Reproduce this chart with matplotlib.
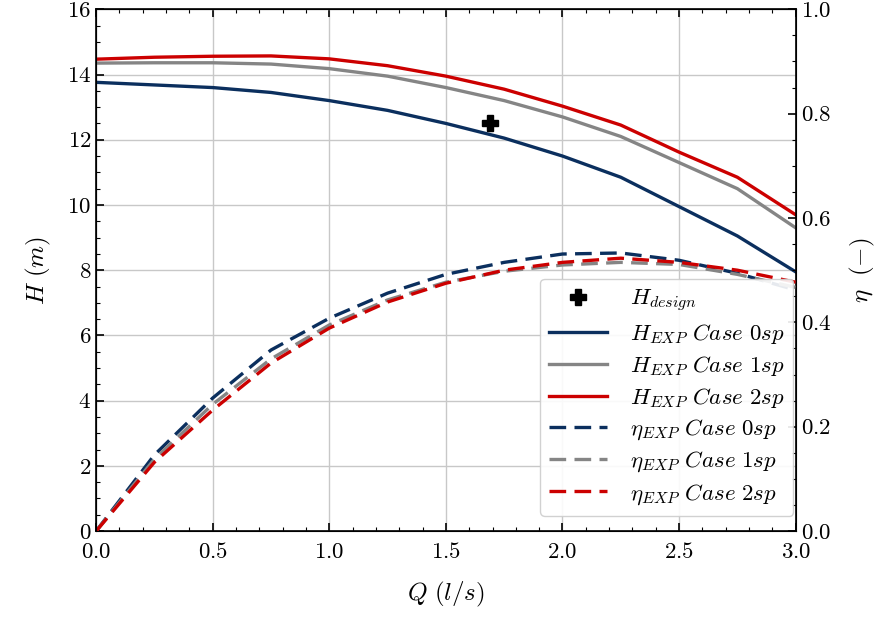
import matplotlib
matplotlib.use("Agg")
import matplotlib.pyplot as plt
from matplotlib.ticker import MultipleLocator

plt.rcParams['font.family'] = 'serif'
plt.rcParams['font.serif'] = ['cmr10']
plt.rcParams['mathtext.fontset'] = 'cm'
plt.rcParams['axes.formatter.use_mathtext'] = True
plt.rcParams['axes.unicode_minus'] = False

# flow rate (l/s)
Q = [0.0, 0.25, 0.5, 0.75, 1.0, 1.25, 1.5, 1.75, 2.0, 2.25, 2.5, 2.75, 3.0]

# head curves (m)
H_0sp = [13.76, 13.68, 13.60, 13.45, 13.20, 12.90, 12.50, 12.05, 11.50, 10.85, 9.95, 9.05, 7.95]
H_1sp = [14.35, 14.36, 14.36, 14.32, 14.18, 13.95, 13.60, 13.20, 12.70, 12.10, 11.30, 10.50, 9.30]
H_2sp = [14.47, 14.53, 14.56, 14.57, 14.48, 14.27, 13.95, 13.55, 13.03, 12.45, 11.62, 10.85, 9.70]

# efficiency curves (-)
eta_0sp = [0.0, 0.146, 0.255, 0.347, 0.408, 0.456, 0.492, 0.515, 0.531, 0.533, 0.519, 0.494, 0.462]
eta_1sp = [0.0, 0.138, 0.243, 0.330, 0.395, 0.443, 0.477, 0.498, 0.510, 0.515, 0.511, 0.492, 0.467]
eta_2sp = [0.0, 0.132, 0.232, 0.322, 0.389, 0.439, 0.475, 0.500, 0.515, 0.523, 0.515, 0.500, 0.477]

Q_design = 1.69
H_design = 12.5

blue = '#0b2f5e'
gray = '#858585'
red = '#cc0000'
dash = (0, (5, 2.5))

fig = plt.figure(figsize=(8.9, 6.19), dpi=100)
ax = fig.add_axes([0.108, 0.142, 0.786, 0.843])
ax2 = ax.twinx()

h0 = ax.plot(Q_design, H_design, 'P', color='k', markersize=11, label=r'$H_{design}$', zorder=5)
l1 = ax.plot(Q, H_0sp, color=blue, lw=2.4, label=r'$H_{EXP}\ Case\ 0sp$')
l2 = ax.plot(Q, H_1sp, color=gray, lw=2.4, label=r'$H_{EXP}\ Case\ 1sp$')
l3 = ax.plot(Q, H_2sp, color=red, lw=2.4, label=r'$H_{EXP}\ Case\ 2sp$')
l4 = ax2.plot(Q, eta_0sp, color=blue, lw=2.4, ls=dash, label=r'$\eta_{EXP}\ Case\ 0sp$')
l5 = ax2.plot(Q, eta_1sp, color=gray, lw=2.4, ls=dash, label=r'$\eta_{EXP}\ Case\ 1sp$')
l6 = ax2.plot(Q, eta_2sp, color=red, lw=2.4, ls=dash, label=r'$\eta_{EXP}\ Case\ 2sp$')

ax.set_xlim(0, 3.0)
ax.set_ylim(0, 16)
ax2.set_ylim(0, 1.0)

ax.xaxis.set_major_locator(MultipleLocator(0.5))
ax.xaxis.set_minor_locator(MultipleLocator(0.1))
ax.yaxis.set_major_locator(MultipleLocator(2))
ax.yaxis.set_minor_locator(MultipleLocator(0.5))
ax2.yaxis.set_major_locator(MultipleLocator(0.2))
ax2.yaxis.set_minor_locator(MultipleLocator(0.05))

ax.tick_params(which='both', direction='in', top=True, right=False, labelsize=16.5)
ax.tick_params(axis='x', pad=8)
ax.tick_params(which='major', length=6, width=1.2)
ax.tick_params(which='minor', length=3, width=0.8)
ax2.tick_params(which='both', direction='in', labelsize=16.5)
ax2.tick_params(which='major', length=6, width=1.2)
ax2.tick_params(which='minor', length=3, width=0.8)
for sp in ax.spines.values():
    sp.set_linewidth(1.2)

ax.grid(True, which='major', color='#c8c8c8', lw=1.0)

ax.set_xlabel(r'$Q\ (l/s)$', fontsize=18, labelpad=13)
ax.set_ylabel(r'$H\ (m)$', fontsize=18, labelpad=10)
ax2.set_ylabel(r'$\eta\ \ (-)$', fontsize=18, labelpad=12)

handles = h0 + l1 + l2 + l3 + l4 + l5 + l6
ax2.legend(handles=handles, loc='lower right', bbox_to_anchor=(1.0, 0.025),
           borderaxespad=0.1, fontsize=16.5, handlelength=2.5, handletextpad=1.0,
           labelspacing=0.34, framealpha=0.9, edgecolor='#cccccc', fancybox=True)

fig.savefig('out.png', dpi=100)
